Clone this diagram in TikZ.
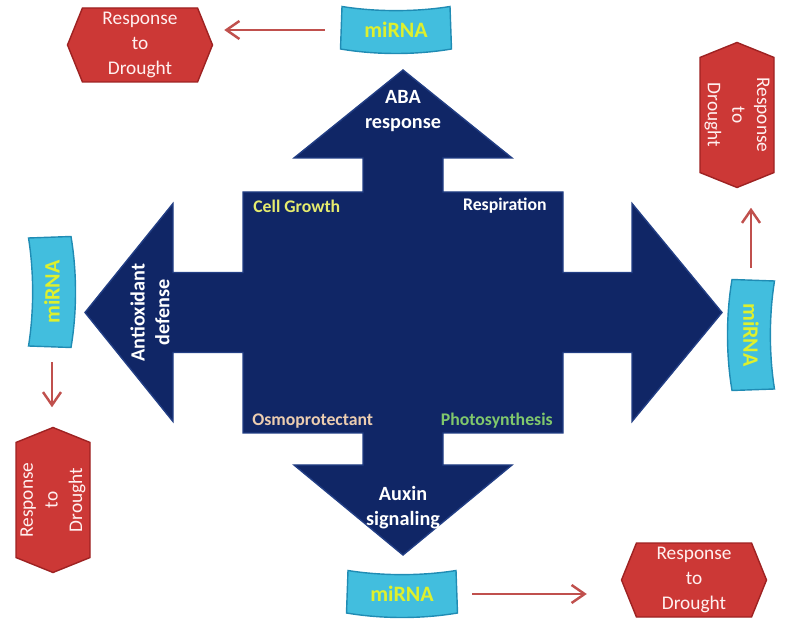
\documentclass[tikz,border=0pt]{standalone}
\usepackage{fontspec}
\setmainfont{Carlito}
\usetikzlibrary{arrows.meta,shapes.symbols}

\definecolor{crossblue}{RGB}{16,38,102}
\definecolor{crossedge}{RGB}{34,62,132}
\definecolor{mirnacyan}{RGB}{66,190,222}
\definecolor{mirnadark}{RGB}{32,140,180}
\definecolor{mirnalime}{RGB}{222,240,45}
\definecolor{respred}{RGB}{204,56,54}
\definecolor{respdark}{RGB}{158,34,34}
\definecolor{flowred}{RGB}{192,80,77}
\definecolor{growthyellow}{RGB}{230,236,110}
\definecolor{osmopeach}{RGB}{236,205,176}
\definecolor{photogreen}{RGB}{128,200,108}

% miRNA tag: name, position, angle
\newcommand{\mirnabox}[3]{%
  \begin{scope}[shift={#2}, rotate=#3]
    \filldraw[fill=mirnacyan, draw=mirnadark, thick]
      (-1.08,0.47) .. controls (-0.4,0.36) and (0.4,0.36) .. (1.08,0.47)
      -- (1.11,-0.38) .. controls (0.4,-0.5) and (-0.4,-0.5) .. (-1.11,-0.38) -- cycle;
  \end{scope}
  \node[mirnatext, rotate=#3] (#1) at #2 {miRNA};
}

\begin{document}
\begin{tikzpicture}[>={Straight Barb[length=2.6mm,width=3.6mm]},
    resp/.style={shape=signal, signal to=west and east, signal pointer angle=136,
      fill=respred, draw=respdark, thick, minimum width=2.9cm, minimum height=1.48cm,
      inner sep=1pt, text=white!94!red, align=center, font=\fontsize{11}{14}\selectfont},
    mirnatext/.style={text=mirnalime, font=\bfseries\fontsize{12.5}{14}\selectfont,
      minimum width=2.2cm, minimum height=0.95cm, inner sep=0pt},
    flow/.style={->, draw=flowred, line width=1.4pt},
    lbl/.style={font=\bfseries\fontsize{10.1}{14}\selectfont, inner sep=0pt},
    tiplbl/.style={text=white, align=center, font=\bfseries\fontsize{11.5}{14}\selectfont}]

    \useasboundingbox (0,0) rectangle (15.94,12.5);

    % Bốn mũi tên và thân giữa
    \filldraw[fill=crossblue, draw=crossedge, line width=0.8pt, line join=miter]
      (8.06,11.1) -- (10.24,9.34) -- (8.86,9.34) -- (8.86,8.66) -- (11.26,8.66)
      -- (11.26,7.05) -- (12.64,7.05) -- (12.64,8.43) -- (14.44,6.25) -- (12.64,4.07)
      -- (12.64,5.45) -- (11.26,5.45) -- (11.26,3.84) -- (8.86,3.84) -- (8.86,3.2)
      -- (10.24,3.2) -- (8.06,1.4) -- (5.88,3.2) -- (7.26,3.2) -- (7.26,3.84)
      -- (4.86,3.84) -- (4.86,5.45) -- (3.46,5.45) -- (3.46,4.07) -- (1.7,6.25)
      -- (3.46,8.43) -- (3.46,7.05) -- (4.86,7.05) -- (4.86,8.66) -- (7.26,8.66)
      -- (7.26,9.34) -- (5.88,9.34) -- cycle;

    % Nhãn trên các mũi tên
    \node[tiplbl] (aba) at (8.06,10.28) {ABA\\response};
    \node[tiplbl] (auxin) at (8.06,2.35) {Auxin\\signaling};
    \node[tiplbl, rotate=90] (antiox) at (3.0,6.25) {Antioxidant\\defense};

    % Nhãn ở bốn góc thân
    \node[lbl, text=growthyellow, anchor=west] (growth) at (5.06,8.38) {Cell Growth};
    \node[lbl, text=white, anchor=east] (respir) at (10.94,8.38) {Respiration};
    \node[lbl, text=osmopeach, anchor=west] (osmo) at (5.04,4.08) {Osmoprotectant};
    \node[lbl, text=photogreen, anchor=east] (photo) at (11.06,4.08) {Photosynthesis};

    % Các miRNA
    \mirnabox{mtop}{(7.92,11.9)}{0}
    \mirnabox{mbot}{(8.04,0.62)}{0}
    \mirnabox{mleft}{(1.04,6.66)}{90}
    \mirnabox{mright}{(15.02,5.8)}{-90}

    % Phản ứng với hạn hán
    \node[resp] (rtop) at (2.8,11.6) {Response\\to\\Drought};
    \node[resp, rotate=-90] (rright) at (14.74,10.2) {Response\\to\\Drought};
    \node[resp, rotate=90] (rleft) at (1.06,2.5) {Response\\to\\Drought};
    \node[resp] (rbot) at (13.88,0.9) {Response\\to\\Drought};

    % Mũi tên miRNA -> phản ứng
    \draw[flow, shorten <=0.32cm, shorten >=0.22cm] (mtop) -- (mtop -| rtop.east);
    \draw[flow, shorten <=0.24cm, shorten >=0.39cm] (mright) -- (mright |- rright.east);
    \draw[flow, shorten <=0.3cm, shorten >=0.39cm] (mleft) -- (mleft |- rleft.east);
    \draw[flow, shorten <=0.3cm, shorten >=0.68cm] (mbot) -- (mbot -| rbot.west);
\end{tikzpicture}
\end{document}
